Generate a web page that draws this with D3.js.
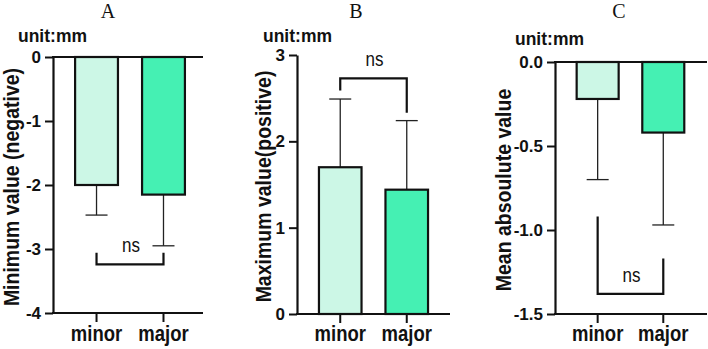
<!DOCTYPE html>
<html>
<head>
<meta charset="utf-8">
<script src="https://cdn.jsdelivr.net/npm/d3@7"></script>
<style>
  body { margin: 0; background: #fff; }
  svg { display: block; }
</style>
</head>
<body>
<div id="chart"></div>
<script>
// chart size
const width = 708;
const height = 349;

// groups on the x axis
const categories = ["minor", "major"];
const barColors = ["#ccf7e6", "#45f0b3"];

// panel A: minimum value (negative), mean and SD
const minMeans = [-2.0, -2.15];
const minSD = [0.47, 0.80];
const minTicks = [0, -1, -2, -3, -4];

// panel B: maximum value (positive)
const maxMeans = [1.70, 1.44];
const maxSD = [0.79, 0.80];
const maxTicks = [0, 1, 2, 3];

// panel C: mean absolute value
const absMeans = [-0.22, -0.42];
const absSD = [0.48, 0.55];
const absTicks = [0, -0.5, -1.0, -1.5];

// "ns" brackets: [bar level, left leg end, right leg end, text baseline] in data units
const minBracket = [-3.24, -3.06, -3.06, -3.04];
const maxBracket = [2.73, 2.59, 2.33, 2.87];
const absBracket = [-1.38, -0.92, -1.17, -1.31];

const svg = d3.select("#chart")
  .append("svg")
    .attr("width", width)
    .attr("height", height);

// layout of each panel (pixels)
const panels = [
  { title: "A", ylabel: "Minimum value (negative)", means: minMeans, sd: minSD, ticks: minTicks,
    domain: [-4, 0], fmt: d3.format("d"), bracket: minBracket, topLine: true,
    x0: 53, x1: 203, band1: 203, top: 57, bottom: 313, titleX: 108, unitX: 18, unitY: 41.5, ylabX: 19 },
  { title: "B", ylabel: "Maximum value(positive)", means: maxMeans, sd: maxSD, ticks: maxTicks,
    domain: [0, 3], fmt: d3.format("d"), bracket: maxBracket, topLine: false,
    x0: 297, x1: 450, band1: 446, top: 55, bottom: 314, titleX: 356, unitX: 263, unitY: 41.5, ylabX: 271 },
  { title: "C", ylabel: "Mean absoulute value", means: absMeans, sd: absSD, ticks: absTicks,
    domain: [-1.5, 0], fmt: d3.format(".1f"), bracket: absBracket, topLine: true,
    x0: 555, x1: 707, band1: 702, top: 62, bottom: 314, titleX: 619, unitX: 515, unitY: 45, ylabX: 511 }
];

const sansFont = "'Liberation Sans', Arial, sans-serif";

// text helper with a small vertical stretch like the original picture
function stretchedText(g, x, y, txt, size, weight, sy, anchor) {
  return g.append("text")
    .attr("transform", `translate(${x},${y}) scale(1,${sy})`)
    .attr("text-anchor", anchor || "middle")
    .style("font-family", sansFont)
    .style("font-size", size + "px")
    .style("font-weight", weight)
    .attr("fill", "#111")
    .text(txt);
}

panels.forEach(function(p) {
  const g = svg.append("g");

  const x = d3.scaleBand()
    .domain(categories)
    .range([p.x0, p.band1])
    .paddingInner(0.36)
    .paddingOuter(0.3)
    .align(0.55);

  const y = d3.scaleLinear()
    .domain(p.domain)
    .range([p.bottom, p.top]);

  const rows = categories.map((c, i) => ({ cat: c, mean: p.means[i], sd: p.sd[i], color: barColors[i] }));

  // error bars (drawn outward from the bar end)
  const capHalf = 11;
  rows.forEach(function(d) {
    const cx = x(d.cat) + x.bandwidth() / 2;
    const end = d.mean >= 0 ? d.mean + d.sd : d.mean - d.sd;
    g.append("line")
      .attr("x1", cx).attr("x2", cx)
      .attr("y1", y(d.mean)).attr("y2", y(end))
      .attr("stroke", "#222").attr("stroke-width", 1.3);
    g.append("line")
      .attr("x1", cx - capHalf).attr("x2", cx + capHalf)
      .attr("y1", y(end)).attr("y2", y(end))
      .attr("stroke", "#222").attr("stroke-width", 1.3);
  });

  // bars from zero
  g.selectAll("rect.bar")
    .data(rows)
    .join("rect")
      .attr("class", "bar")
      .attr("x", d => x(d.cat))
      .attr("width", x.bandwidth())
      .attr("y", d => y(Math.max(0, d.mean)))
      .attr("height", d => Math.abs(y(d.mean) - y(0)))
      .attr("fill", d => d.color)
      .attr("stroke", "#111")
      .attr("stroke-width", 2.2);

  // y axis (plain hyphen for negatives, like the original)
  const yAxis = g.append("g")
    .attr("transform", `translate(${p.x0},0)`)
    .call(d3.axisLeft(y).tickValues(p.ticks)
      .tickFormat(d => p.fmt(d).replace("\u2212", "-"))
      .tickSize(8).tickSizeOuter(0).tickPadding(4));
  yAxis.select(".domain").attr("stroke", "#111").attr("stroke-width", 2.2);
  yAxis.selectAll(".tick line").attr("stroke", "#111").attr("stroke-width", 2);
  yAxis.selectAll(".tick text")
    .attr("fill", "#111")
    .style("font-family", sansFont)
    .style("font-size", "17px")
    .style("font-weight", "bold");

  // x axis at the bottom of the y range, extended to the panel end
  const xAxis = g.append("g")
    .attr("transform", `translate(0,${p.bottom})`)
    .call(d3.axisBottom(x).tickSize(9).tickSizeOuter(0).tickFormat(""));
  xAxis.select(".domain").remove();
  xAxis.selectAll(".tick line").attr("stroke", "#111").attr("stroke-width", 2);
  g.append("line")
    .attr("x1", p.x0 - 1).attr("x2", p.x1)
    .attr("y1", p.bottom).attr("y2", p.bottom)
    .attr("stroke", "#111").attr("stroke-width", 2.2);

  // zero line for the negative panels
  if (p.topLine) {
    g.append("line")
      .attr("x1", p.x0 - 1).attr("x2", p.x1)
      .attr("y1", y(0)).attr("y2", y(0))
      .attr("stroke", "#111").attr("stroke-width", 2.2);
  }

  // category labels
  categories.forEach(function(c) {
    stretchedText(g, x(c) + x.bandwidth() / 2, 341, c, 18.5, "bold", 1.15);
  });

  // significance bracket
  const bl = x(categories[0]) + x.bandwidth() / 2;
  const br = x(categories[1]) + x.bandwidth() / 2;
  const b = p.bracket;
  g.append("path")
    .attr("d", `M${bl},${y(b[1])}V${y(b[0])}H${br}V${y(b[2])}`)
    .attr("fill", "none")
    .attr("stroke", "#111")
    .attr("stroke-width", 2.2);
  stretchedText(g, (bl + br) / 2 + 1, y(b[3]), "ns", 17, "normal", 1.2);

  // panel letter
  g.append("text")
    .attr("x", p.titleX)
    .attr("y", 18)
    .attr("text-anchor", "middle")
    .style("font-family", "'Liberation Serif', 'Times New Roman', serif")
    .style("font-size", "20px")
    .attr("fill", "#111")
    .text(p.title);

  // unit note
  stretchedText(g, p.unitX, p.unitY, "unit:mm", 17.5, "bold", 1.05, "start");

  // y axis title
  g.append("text")
    .attr("transform", `translate(${p.ylabX},${(p.top + p.bottom) / 2 + 2}) rotate(-90) scale(1,1.15)`)
    .attr("text-anchor", "middle")
    .style("font-family", sansFont)
    .style("font-size", "19.5px")
    .style("font-weight", "bold")
    .attr("fill", "#111")
    .text(p.ylabel);
});
</script>
</body>
</html>
